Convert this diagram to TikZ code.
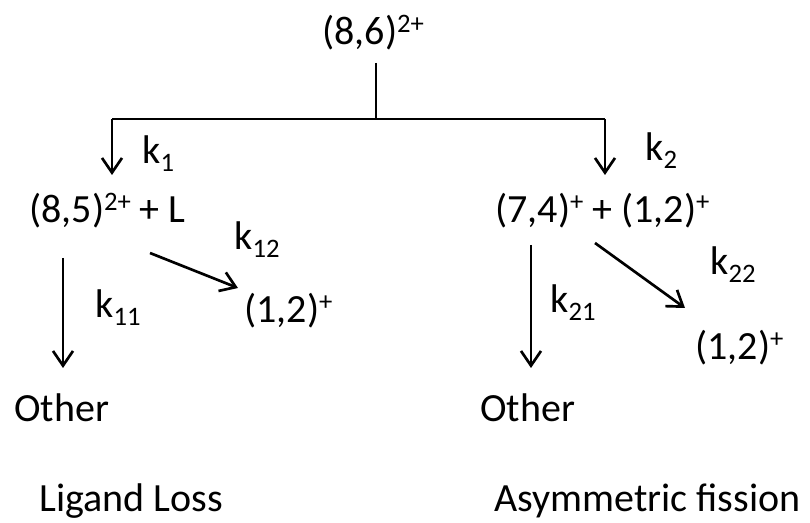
\documentclass[tikz,border=0pt]{standalone}
\usepackage{fontspec}
\setmainfont{Carlito}
\usetikzlibrary{arrows.meta}

\newcommand{\sps}[1]{\raisebox{9pt}{\fontsize{20}{20}\selectfont #1}}
\newcommand{\sbs}[1]{\raisebox{-6pt}{\fontsize{20}{20}\selectfont #1}}

\tikzset{every picture/.style={line width=2pt}}

\begin{document}
\begin{tikzpicture}[x=0.75pt,y=0.75pt,yscale=-1,xscale=1,
    lbl/.style={anchor=base west,inner sep=0.75pt,font=\fontsize{30}{36}\selectfont},
    arr/.style={line width=2pt,-{Straight Barb[length=11pt,width=15pt]}}]
    \useasboundingbox (0,0) rectangle (810,523);

    % Text Nodes
    \node [lbl] (top) at (320,45) {(8,6)\sps{2+}};
    \node [lbl] (ligprod) at (27,223) {(8,5)\sps{2+} + L};
    \node [lbl] (fisprod) at (493,223) {(7,4)\sps{+} + (1,2)\sps{+}};
    \node [lbl] (kone) at (140,164) {k\sbs{1}};
    \node [lbl] (ktwo) at (643,161) {k\sbs{2}};
    \node [lbl] (koneone) at (93,318) {k\sbs{11}};
    \node [lbl] (konetwo) at (232,250) {k\sbs{12}};
    \node [lbl] (ktwoone) at (548,313) {k\sbs{21}};
    \node [lbl] (ktwotwo) at (708,275) {k\sbs{22}};
    \node [lbl] (ligfrag) at (242,323) {(1,2)\sps{+}};
    \node [lbl] (fisfrag) at (693,360) {(1,2)\sps{+}};
    \node [lbl] (ligother) at (12,422) {Other};
    \node [lbl] (fisother) at (478,422) {Other};
    \node [lbl] (ligtitle) at (37,512) {Ligand Loss};
    \node [lbl] (fistitle) at (492,512) {Asymmetric fission};

    % Branch points and arrow ends
    \coordinate (stem) at (376,63);
    \coordinate (split) at (376,119);
    \coordinate (lbranch) at (112,119);
    \coordinate (rbranch) at (605,119);
    \coordinate (ltip) at (112,175);
    \coordinate (rtip) at (605,175);
    \coordinate (lvtop) at (63,258);
    \coordinate (lvtip) at (63,368);
    \coordinate (rvtop) at (531,245);
    \coordinate (rvtip) at (531,368);
    \coordinate (ldtop) at (150,253);
    \coordinate (ldtip) at (238,288);
    \coordinate (rdtop) at (595,243);
    \coordinate (rdtip) at (685,308);

    % Tree
    \draw (stem) -- (split);
    \draw (lbranch) -- (rbranch);
    \draw [arr] (lbranch) -- (ltip);
    \draw [arr] (rbranch) -- (rtip);

    % Ligand loss channel
    \draw [arr] (lvtop) -- (lvtip);
    \draw [arr] (ldtop) -- (ldtip);

    % Fission channel
    \draw [arr] (rvtop) -- (rvtip);
    \draw [arr] (rdtop) -- (rdtip);

\end{tikzpicture}
\end{document}
